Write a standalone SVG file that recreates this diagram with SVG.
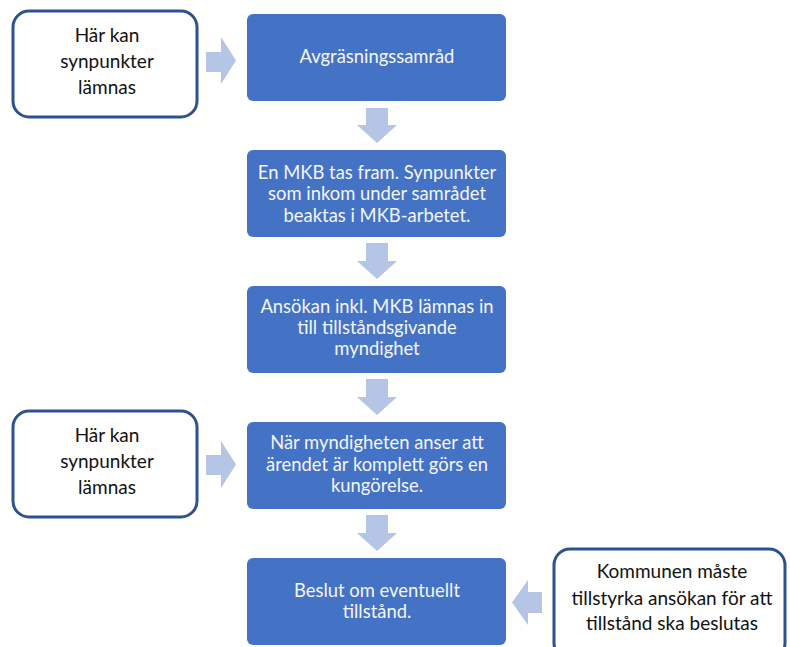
<svg xmlns="http://www.w3.org/2000/svg" width="790" height="647" viewBox="0 0 790 647">
<style>
.blue{fill:#4472C4;}
.note{fill:#FFFFFF;stroke:#2F528F;stroke-width:3;}
.arr{fill:#B4C5E6;}
.wt{font-family:Lato,"Open Sans","Liberation Sans",sans-serif;font-size:18.4px;fill:#F4F6FB;text-anchor:middle;}
.bt{font-family:Lato,"Open Sans","Liberation Sans",sans-serif;font-size:19px;fill:#111111;text-anchor:middle;}
</style>
<rect width="790" height="647" fill="#FFFFFF"/>
<g id="connectors">
<path class="arr" d="M206,52 H221 V37 L236,60.5 L221,84 V72 H206 Z"/>
<path class="arr" d="M206,455 H221 V441 L236,464.5 L221,488 V475 H206 Z"/>
<path class="arr" d="M542,592 H528 V580 L512,602.5 L528,625 V613 H542 Z"/>
<path class="arr" d="M366,108 H388 V125 H397 L377,143 L357,125 H366 Z"/>
<path class="arr" d="M366,243 H388 V261 H397 L377,279 L357,261 H366 Z"/>
<path class="arr" d="M366,379 H388 V397 H397 L377,415 L357,397 H366 Z"/>
<path class="arr" d="M366,515 H388 V533 H397 L377,551 L357,533 H366 Z"/>
</g>
<g id="note1">
<rect class="note" x="13" y="11" width="184" height="106" rx="16"/>
<text class="bt" x="107" y="42">Här kan</text>
<text class="bt" x="107" y="68">synpunkter</text>
<text class="bt" x="107" y="94">lämnas</text>
</g>
<g id="step1">
<rect class="blue" x="247" y="14" width="259" height="87" rx="6"/>
<text class="wt" x="377" y="63">Avgräsningssamråd</text>
</g>
<g id="step2">
<rect class="blue" x="247" y="150" width="259" height="87" rx="6"/>
<text class="wt" x="377" y="179">En MKB tas fram. Synpunkter</text>
<text class="wt" x="377" y="200">som inkom under samrådet</text>
<text class="wt" x="377" y="222">beaktas i MKB-arbetet.</text>
</g>
<g id="step3">
<rect class="blue" x="247" y="286" width="259" height="87" rx="6"/>
<text class="wt" x="377" y="313">Ansökan inkl. MKB lämnas in</text>
<text class="wt" x="377" y="334">till tillståndsgivande</text>
<text class="wt" x="377" y="355">myndighet</text>
</g>
<g id="note2">
<rect class="note" x="13" y="411" width="184" height="106" rx="16"/>
<text class="bt" x="107" y="442">Här kan</text>
<text class="bt" x="107" y="468">synpunkter</text>
<text class="bt" x="107" y="494">lämnas</text>
</g>
<g id="step4">
<rect class="blue" x="247" y="422" width="259" height="87" rx="6"/>
<text class="wt" x="377" y="449">När myndigheten anser att</text>
<text class="wt" x="377" y="471">ärendet är komplett görs en</text>
<text class="wt" x="377" y="492">kungörelse.</text>
</g>
<g id="step5">
<rect class="blue" x="247" y="558" width="259" height="87" rx="6"/>
<text class="wt" x="377" y="597">Beslut om eventuellt</text>
<text class="wt" x="377" y="618">tillstånd.</text>
</g>
<g id="note3">
<rect class="note" x="554" y="549" width="231" height="110" rx="16"/>
<text class="bt" x="672" y="578">Kommunen måste</text>
<text class="bt" x="672" y="605">tillstyrka ansökan för att</text>
<text class="bt" x="672" y="630">tillstånd ska beslutas</text>
</g>
</svg>
